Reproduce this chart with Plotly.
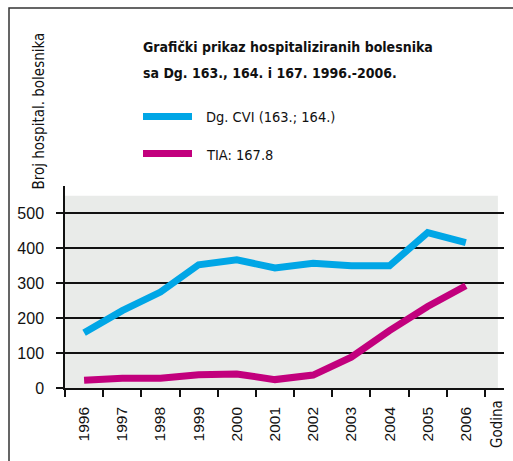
import plotly.graph_objects as go

years = ["1996", "1997", "1998", "1999", "2000", "2001", "2002", "2003", "2004", "2005", "2006"]
cvi = [158, 221, 274, 352, 366, 343, 356, 349, 349, 444, 415]
tia = [22, 28, 28, 38, 40, 24, 37, 88, 164, 233, 292]
y_ticks = [0, 100, 200, 300, 400, 500]

BLUE = "#00A6E6"
MAGENTA = "#C2007D"
W, H = 513, 461
L, R, T, B = 65, 9, 186, 73
PW, PH = W - L - R, H - T - B

def px_x(p):
    return (p - L) / PW

def px_y(p):
    return (H - B - p) / PH

xs = list(range(len(years)))

fig = go.Figure()
fig.add_trace(go.Scatter(x=xs, y=cvi, mode="lines", name="Dg. CVI (163.; 164.)",
                         line=dict(color=BLUE, width=7)))
fig.add_trace(go.Scatter(x=xs, y=tia, mode="lines", name="TIA: 167.8",
                         line=dict(color=MAGENTA, width=7)))

helv = "Liberation Sans, Arial"
condensed = "DejaVu Sans Condensed, Liberation Sans"

fig.update_layout(
    width=W, height=H, margin=dict(l=L, r=R, t=T, b=B),
    paper_bgcolor="white", plot_bgcolor="white",
    showlegend=False,
    xaxis=dict(range=[-0.5, 11.0], tickmode="array", tickvals=xs, ticktext=years,
               tickangle=-90, ticks="", showgrid=False, zeroline=False,
               showline=True, linecolor="#111", linewidth=1.5,
               tickfont=dict(family=helv, size=15.5, color="#111"), ticklabelstandoff=11,
               minor=dict(tickmode="array", tickvals=[i - 0.5 for i in range(12)],
                          ticks="outside", ticklen=7, tickwidth=1.5, tickcolor="#111",
                          showgrid=False)),
    yaxis=dict(range=[0, 577], tickmode="array", tickvals=y_ticks,
               ticks="outside", ticklen=7, tickwidth=1.5, tickcolor="#111",
               showgrid=True, gridcolor="#111", gridwidth=1.5, zeroline=False,
               showline=True, linecolor="#111", linewidth=1.5,
               tickfont=dict(family=helv, size=16, color="#111"),
               ticklabelstandoff=9),
)

# grey panel
fig.add_shape(type="rect", xref="x", yref="y", x0=-0.5, x1=10.84, y0=0, y1=549,
              fillcolor="#E9EBE9", line=dict(width=0), layer="below")
# frame
fig.add_shape(type="rect", xref="paper", yref="paper", x0=px_x(9), x1=px_x(520),
              y0=px_y(470), y1=px_y(8), line=dict(color="#333", width=1.5), layer="above")

# legend samples
for yy, col in [(116.5, BLUE), (153.5, MAGENTA)]:
    fig.add_shape(type="line", xref="paper", yref="paper", x0=px_x(143), x1=px_x(192),
                  y0=px_y(yy), y1=px_y(yy), line=dict(color=col, width=7))

for txt, yy in [("<b>Grafički prikaz hospitaliziranih bolesnika</b>", 46.5),
                ("<b>sa Dg. 163., 164. i 167. 1996.-2006.</b>", 73)]:
    fig.add_annotation(text=txt, x=px_x(141), y=px_y(yy), xref="paper", yref="paper",
                       xanchor="left", yanchor="middle", showarrow=False,
                       font=dict(family=condensed, size=14, color="#111"))

for txt, yy in [("Dg. CVI (163.; 164.)", 117.5), ("TIA: 167.8", 154.5)]:
    fig.add_annotation(text=txt, xref="paper", yref="paper", x=px_x(204), y=px_y(yy),
                       xanchor="left", yanchor="middle", showarrow=False,
                       font=dict(family=condensed, size=14.5, color="#111"))

fig.add_annotation(text="Broj hospital. bolesnika", xref="paper", yref="paper",
                   x=px_x(39), y=px_y(111.5), textangle=-90, xanchor="center", yanchor="middle",
                   showarrow=False, font=dict(family=condensed, size=15, color="#111"))
fig.add_annotation(text="Godina", xref="paper", yref="paper",
                   x=px_x(497), y=px_y(424), textangle=-90, xanchor="center", yanchor="middle",
                   showarrow=False, font=dict(family=condensed, size=15, color="#111"))

fig.write_html("out.html")
